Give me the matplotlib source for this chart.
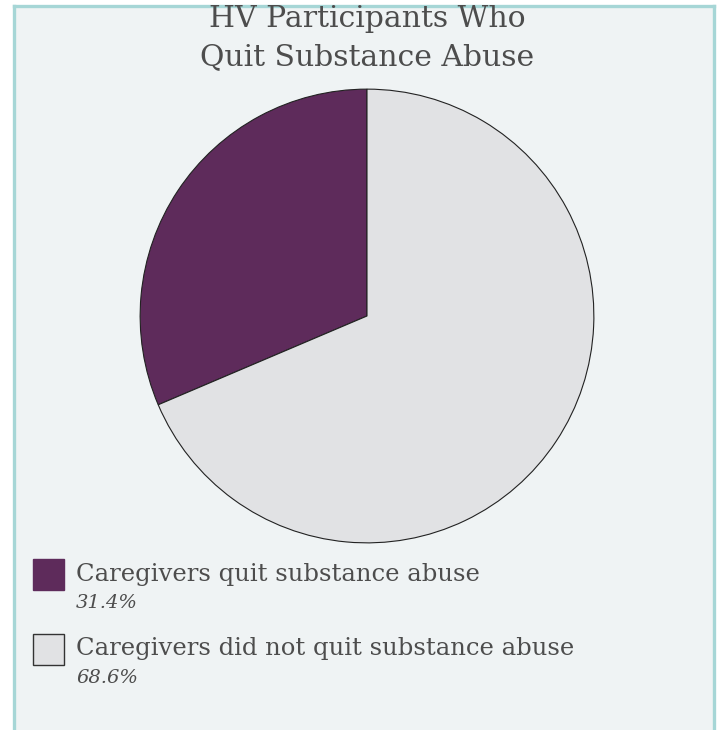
import matplotlib
matplotlib.use("Agg")
import matplotlib.pyplot as plt
from matplotlib.patches import Rectangle
from matplotlib.lines import Line2D

# data
labels = ["Caregivers quit substance abuse", "Caregivers did not quit substance abuse"]
shares = [31.4, 68.6]
pct_labels = ["31.4%", "68.6%"]
colors = ["#5e2b5b", "#e1e2e4"]
title_lines = ["HV Participants Who", "Quit Substance Abuse"]

W, H = 719, 730
fig = plt.figure(figsize=(W / 100, H / 100), dpi=100)
fig.patch.set_facecolor("white")

# panel background + teal border (left, top, right)
fig.add_artist(Rectangle((14 / W, 0), 700 / W, 1 - 6 / H, transform=fig.transFigure,
                         facecolor="#eff3f4", edgecolor="none", zorder=0))
border = "#a6d6d6"
for xs, ys in [([14, 14], [6, H]), ([14, 714], [6, 6]), ([714, 714], [6, H])]:
    fig.add_artist(Line2D([x / W for x in xs], [1 - y / H for y in ys],
                          transform=fig.transFigure, color=border, lw=2.4, zorder=1))

serif = ["DejaVu Serif"]
txt_col = "#4d4d4d"

# title, two lines
for line, y in zip(title_lines, [19, 57]):
    fig.text(367 / W, 1 - y / H, line, ha="center", va="center", fontsize=21.5,
             family=serif, color=txt_col)

# pie
cx, cy, r = 367, 316, 228
ax = fig.add_axes([(cx - r) / W, (H - cy - r) / H, 2 * r / W, 2 * r / H])
ax.pie(shares, colors=colors, startangle=90, counterclock=True,
       wedgeprops=dict(edgecolor="#222222", linewidth=0.8))
ax.set_xlim(-1.005, 1.005)
ax.set_ylim(-1.005, 1.005)
ax.axis("off")

# legend
rows_y = [574, 649]
for lab, pct, col, y in zip(labels, pct_labels, colors, rows_y):
    fig.add_artist(Rectangle((33 / W, 1 - (y + 16) / H), 31 / W, 31 / H,
                             transform=fig.transFigure, facecolor=col,
                             edgecolor="#333333" if col == colors[1] else col, lw=1.0))
    fig.text(76 / W, 1 - y / H, lab, ha="left", va="center", fontsize=17.5,
             family=serif, color=txt_col)
    fig.text(76 / W, 1 - (y + 29) / H, pct, ha="left", va="center", fontsize=14,
             family=serif, style="italic", color=txt_col)

fig.savefig("out.png", dpi=100)
